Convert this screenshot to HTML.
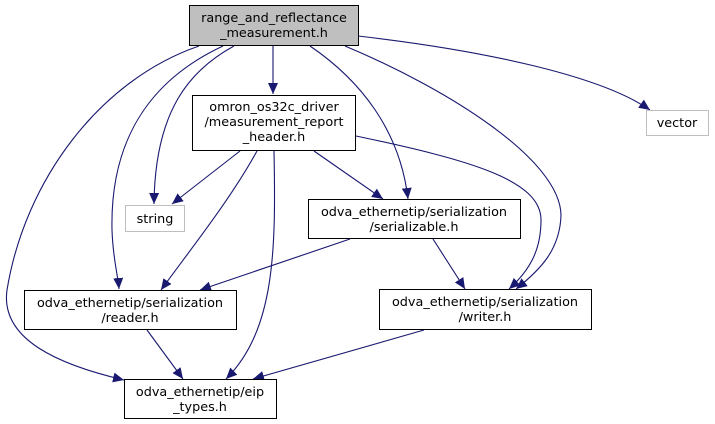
<!DOCTYPE html>
<html><head><meta charset="utf-8"><style>
html,body{margin:0;padding:0;background:#fff;}
svg{display:block;}
text{font-family:"DejaVu Sans","Liberation Sans",sans-serif;font-size:12.8px;fill:#000;}
</style></head><body>
<svg width="715" height="424" viewBox="0 0 715 424" xmlns="http://www.w3.org/2000/svg">
<defs>
<marker id="a" markerWidth="11" markerHeight="10" refX="11" refY="5" orient="auto" markerUnits="userSpaceOnUse">
<path d="M0,0 L11,5 L0,10 z" fill="#191970"/>
</marker>
</defs>
<g fill="none" stroke="#191970" stroke-width="1.1" marker-end="url(#a)">
<path d="M273,46 L273,94"/>
<path d="M234,46 C190,70 155,110 154,204"/>
<path d="M223,46 C150,80 110,140 112,230 C113,260 118,275 119,289"/>
<path d="M199,46 C100,80 25,180 7,290 C0,340 60,365 124,380"/>
<path d="M310,46 C360,80 400,130 408,199"/>
<path d="M345,46 C450,90 560,160 561,215 C560,250 540,270 516,289"/>
<path d="M358,36 C480,50 600,75 650,110"/>
<path d="M240,151 L172,204"/>
<path d="M257,151 C230,200 190,250 161,290"/>
<path d="M274,151 C276,250 275,330 226,379"/>
<path d="M314,151 L383,199"/>
<path d="M356,136 C470,160 541,180 541,220 C541,250 530,270 509,289"/>
<path d="M350,239 L200,290"/>
<path d="M433,239 L465,289"/>
<path d="M147,330 L183,379"/>
<path d="M424,330 L253,379"/>
</g>
<rect x="189.5" y="5.5" width="169" height="40" fill="#bfbfbf" stroke="#000"/>
<text x="274" y="22" text-anchor="middle">range_and_reflectance</text>
<text x="274" y="37" text-anchor="middle">_measurement.h</text>
<rect x="192.5" y="95.5" width="163" height="55" fill="#fff" stroke="#000"/>
<text x="274" y="111" text-anchor="middle">omron_os32c_driver</text>
<text x="274" y="126" text-anchor="middle">/measurement_report</text>
<text x="274" y="141" text-anchor="middle">_header.h</text>
<rect x="646.5" y="110.5" width="62" height="25" fill="#fff" stroke="#bfbfbf"/>
<text x="677" y="127" text-anchor="middle">vector</text>
<rect x="125.5" y="205.5" width="59" height="26" fill="#fff" stroke="#bfbfbf"/>
<text x="155" y="223" text-anchor="middle">string</text>
<rect x="308.5" y="199.5" width="212" height="39" fill="#fff" stroke="#000"/>
<text x="414" y="216" text-anchor="middle">odva_ethernetip/serialization</text>
<text x="414" y="231" text-anchor="middle">/serializable.h</text>
<rect x="24.5" y="290.5" width="212" height="39" fill="#fff" stroke="#000"/>
<text x="130" y="307" text-anchor="middle">odva_ethernetip/serialization</text>
<text x="130" y="322" text-anchor="middle">/reader.h</text>
<rect x="379.5" y="289.5" width="212" height="40" fill="#fff" stroke="#000"/>
<text x="485" y="306" text-anchor="middle">odva_ethernetip/serialization</text>
<text x="485" y="321" text-anchor="middle">/writer.h</text>
<rect x="124.5" y="379.5" width="152" height="39" fill="#fff" stroke="#000"/>
<text x="200" y="396" text-anchor="middle">odva_ethernetip/eip</text>
<text x="200" y="411" text-anchor="middle">_types.h</text>
</svg>
</body></html>
